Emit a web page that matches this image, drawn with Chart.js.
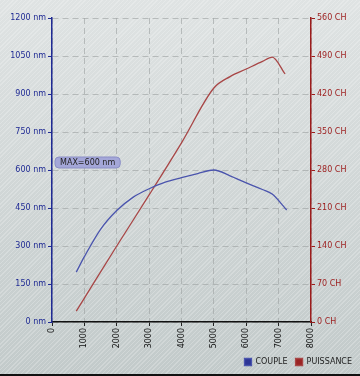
<!DOCTYPE html>
<html>
<head>
<meta charset="utf-8">
<script src="https://cdn.jsdelivr.net/npm/chart.js@4.4.0/dist/chart.umd.min.js"></script>
<style>
  html, body { margin: 0; padding: 0; }
  #wrap {
    position: relative; width: 360px; height: 376px; overflow: hidden;
    background:
      repeating-linear-gradient(135deg, rgba(255,255,255,0.22) 0 1px, rgba(255,255,255,0) 1px 3px),
      linear-gradient(#dfe3e3, #c2caca);
  }
  #wrap canvas { position: absolute; left: 0; top: 0; }
  #bottomLine { position: absolute; left: 0; bottom: 0; width: 360px; height: 2px; background: #111; }
</style>
</head>
<body>
<div id="wrap">
  <canvas id="myChart" width="360" height="376"></canvas>
  <div id="bottomLine"></div>
</div>
<script>
// couple (nm) vs rpm
const coupleRpm = [750, 1000, 1500, 2000, 2500, 3000, 3500, 4000, 4500, 5000, 5500, 6000, 6500, 6800, 7250];
const coupleNm = [197, 258, 366, 440, 492, 526, 552, 570, 586, 600, 577, 549, 523, 505, 442];

// puissance (ch) vs rpm
const puissRpm = [750, 1000, 2000, 3000, 4000, 5000, 5500, 6000, 6500, 6800, 7200];
const puissCh = [20, 44, 140, 234, 330, 431, 452, 466, 480, 488, 457];

const nmTicks = [0, 150, 300, 450, 600, 750, 900, 1050, 1200];
const chTicks = [0, 70, 140, 210, 280, 350, 420, 490, 560];
const rpmTicks = [0, 1000, 2000, 3000, 4000, 5000, 6000, 7000, 8000];

const maxLabel = 'MAX=600 nm';
const maxValue = 600;

const tickFont = { family: 'DejaVu Sans', size: 8 };
const gridColor = 'rgba(160,165,165,0.65)';

// little badge above the 600 nm line
const maxBadge = {
  id: 'maxBadge',
  afterDatasetsDraw(chart) {
    const ctx = chart.ctx;
    const y = chart.scales.y.getPixelForValue(maxValue);
    const x = chart.chartArea.left + 3;
    ctx.save();
    ctx.font = '8px DejaVu Sans';
    const w = ctx.measureText(maxLabel).width + 10;
    const h = 11;
    const top = y - h - 2;
    ctx.beginPath();
    ctx.roundRect(x, top, w, h, 4);
    ctx.fillStyle = '#a4a7d8';
    ctx.fill();
    ctx.strokeStyle = '#8b8fc6';
    ctx.lineWidth = 1;
    ctx.stroke();
    ctx.fillStyle = '#222';
    ctx.textBaseline = 'middle';
    ctx.fillText(maxLabel, x + 5, top + h / 2 + 0.5);
    ctx.restore();
  }
};

new Chart(document.getElementById('myChart'), {
  type: 'line',
  data: {
    datasets: [{
      label: 'COUPLE',
      data: coupleRpm.map((r, i) => ({ x: r, y: coupleNm[i] })),
      yAxisID: 'y',
      borderColor: '#4a54ad',
      backgroundColor: '#2d3596',
      borderWidth: 1.3,
      pointRadius: 0,
      cubicInterpolationMode: 'monotone'
    }, {
      label: 'PUISSANCE',
      data: puissRpm.map((r, i) => ({ x: r, y: puissCh[i] })),
      yAxisID: 'y1',
      borderColor: '#a84646',
      backgroundColor: '#9a2424',
      borderWidth: 1.3,
      pointRadius: 0,
      cubicInterpolationMode: 'monotone'
    }]
  },
  options: {
    responsive: false,
    animation: false,
    layout: { padding: { top: 18, right: 0, left: 0, bottom: 0 } },
    plugins: {
      tooltip: { enabled: false },
      legend: {
        position: 'bottom',
        align: 'end',
        labels: {
          boxWidth: 7, boxHeight: 7, padding: 8,
          color: '#222', font: { family: 'DejaVu Sans', size: 8 }
        }
      }
    },
    scales: {
      x: {
        type: 'linear', min: 0, max: 8000,
        afterBuildTicks: s => { s.ticks = rpmTicks.map(v => ({ value: v })); },
        afterFit: s => { s.height = 28; },
        ticks: { color: '#111', font: tickFont, minRotation: 90, maxRotation: 90, padding: 2, callback: v => String(v) },
        grid: { color: gridColor, tickColor: '#222', tickLength: 4 },
        border: { color: '#111', width: 1.5, dash: [6, 4] }
      },
      y: {
        position: 'left', min: 0, max: 1200,
        afterBuildTicks: s => { s.ticks = nmTicks.map(v => ({ value: v })); },
        afterFit: s => { s.width = 52; },
        ticks: { color: '#1f2a94', font: tickFont, padding: 2, callback: v => v + ' nm' },
        grid: { color: gridColor, tickColor: '#1f2a94', tickLength: 4 },
        border: { color: '#1f2a94', width: 1.5, dash: [6, 4] }
      },
      y1: {
        position: 'right', min: 0, max: 560,
        afterBuildTicks: s => { s.ticks = chTicks.map(v => ({ value: v })); },
        afterFit: s => { s.width = 49; },
        ticks: { color: '#9c1c1c', font: tickFont, padding: 2, callback: v => v + ' CH' },
        grid: { drawOnChartArea: false, tickColor: '#9c1c1c', tickLength: 4 },
        border: { color: '#9c1c1c', width: 1.5 }
      }
    }
  },
  plugins: [maxBadge]
});
</script>
</body>
</html>
